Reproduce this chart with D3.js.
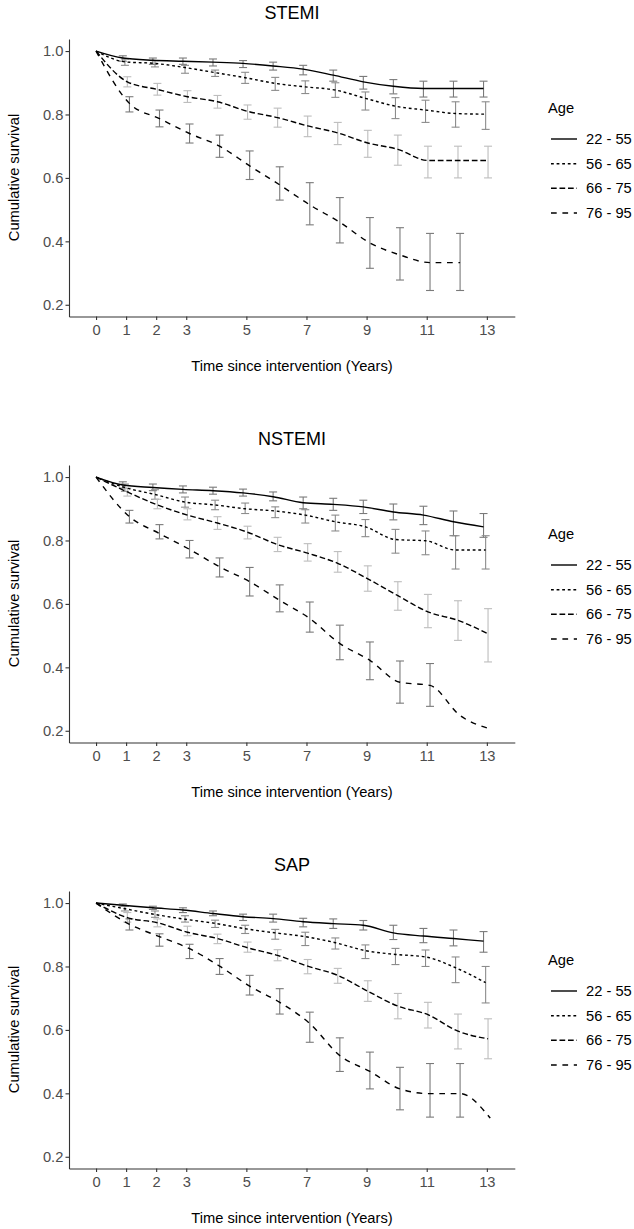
<!DOCTYPE html>
<html>
<head>
<meta charset="utf-8">
<script src="https://cdn.jsdelivr.net/npm/d3@7"></script>
<style>
  html, body { margin: 0; padding: 0; background: #fff; }
  svg { display: block; font-family: "Liberation Sans", Arial, sans-serif; }
</style>
</head>
<body>
<svg id="chart" width="634" height="1229"></svg>
<script>
// ---------- data ----------
const years = [0,1,2,3,4,5,6,7,8,9,10,11,12,13];
const ciYears = [1,2,3,4,5,6,7,8,9,10,11,12,13];
const ageGroups = ["22 - 55", "56 - 65", "66 - 75", "76 - 95"];
const xTicks = [0,1,2,3,5,7,9,11,13];
const yTicks = [0.2,0.4,0.6,0.8,1.0];
const panelTitles = ["STEMI", "NSTEMI", "SAP"];

// STEMI
const stemi_22_55 = [1,0.978,0.971,0.968,0.965,0.961,0.953,0.943,0.924,0.903,0.889,0.882,0.882,0.882];
const stemi_22_55_lo = [0.968,0.958,0.958,0.953,0.948,0.94,0.925,0.905,0.88,0.865,0.855,0.855,0.855];
const stemi_22_55_hi = [0.985,0.978,0.978,0.975,0.97,0.965,0.955,0.94,0.92,0.91,0.905,0.905,0.905];
const stemi_56_65 = [1,0.966,0.961,0.948,0.932,0.916,0.898,0.887,0.877,0.851,0.826,0.814,0.803,0.801];
const stemi_56_65_lo = [0.955,0.95,0.93,0.92,0.898,0.876,0.866,0.854,0.814,0.787,0.775,0.76,0.753];
const stemi_56_65_hi = [0.975,0.97,0.955,0.94,0.933,0.917,0.906,0.9,0.871,0.853,0.845,0.84,0.84];
const stemi_66_75 = [1,0.903,0.879,0.856,0.84,0.81,0.79,0.764,0.742,0.71,0.69,0.655,0.655,0.655];
const stemi_66_75_lo = [0.887,0.861,0.838,0.82,0.785,0.76,0.73,0.705,0.665,0.64,0.60,0.60,0.60];
const stemi_66_75_hi = [0.919,0.898,0.875,0.86,0.83,0.82,0.795,0.775,0.75,0.735,0.70,0.70,0.70];
const stemi_76_95 = [1,0.835,0.787,0.74,0.70,0.638,0.578,0.515,0.46,0.395,0.357,0.333,0.333];
const stemi_76_95_lo = [0.808,0.761,0.71,0.665,0.595,0.53,0.452,0.395,0.315,0.278,0.245,0.245];
const stemi_76_95_hi = [0.856,0.814,0.77,0.735,0.685,0.635,0.585,0.538,0.475,0.443,0.425,0.425];

// NSTEMI
const nstemi_22_55 = [1,0.975,0.967,0.961,0.957,0.95,0.938,0.919,0.914,0.906,0.89,0.88,0.859,0.843];
const nstemi_22_55_lo = [0.965,0.957,0.95,0.946,0.94,0.925,0.9,0.895,0.885,0.865,0.85,0.815,0.81];
const nstemi_22_55_hi = [0.985,0.978,0.972,0.968,0.962,0.953,0.937,0.933,0.927,0.915,0.908,0.893,0.885];
const nstemi_56_65 = [1,0.967,0.945,0.921,0.912,0.90,0.893,0.88,0.859,0.843,0.803,0.799,0.77,0.77];
const nstemi_56_65_lo = [0.955,0.93,0.905,0.897,0.885,0.872,0.855,0.83,0.812,0.76,0.755,0.71,0.71];
const nstemi_56_65_hi = [0.978,0.96,0.937,0.927,0.918,0.906,0.897,0.88,0.866,0.835,0.83,0.815,0.815];
const nstemi_66_75 = [1,0.953,0.912,0.88,0.855,0.826,0.787,0.76,0.728,0.679,0.626,0.575,0.548,0.506];
const nstemi_66_75_lo = [0.94,0.90,0.865,0.835,0.805,0.765,0.735,0.70,0.64,0.58,0.525,0.485,0.417];
const nstemi_66_75_hi = [0.965,0.93,0.90,0.875,0.845,0.81,0.79,0.765,0.72,0.67,0.63,0.61,0.585];
const nstemi_76_95 = [1,0.875,0.822,0.772,0.717,0.67,0.611,0.554,0.475,0.422,0.353,0.343,0.248,0.206];
const nstemi_76_95_lo = [0.855,0.805,0.745,0.685,0.625,0.575,0.511,0.424,0.361,0.287,0.277,null,null];
const nstemi_76_95_hi = [0.895,0.85,0.80,0.745,0.715,0.66,0.606,0.533,0.48,0.42,0.412,null,null];

// SAP
const sap_22_55 = [1,0.993,0.985,0.978,0.967,0.957,0.951,0.941,0.935,0.93,0.906,0.896,0.888,0.88];
const sap_22_55_lo = [0.99,0.98,0.97,0.96,0.945,0.94,0.925,0.92,0.915,0.885,0.875,0.865,0.845];
const sap_22_55_hi = [0.997,0.99,0.985,0.975,0.965,0.965,0.952,0.95,0.945,0.93,0.92,0.915,0.91];
const sap_56_65 = [1,0.982,0.964,0.949,0.936,0.919,0.906,0.894,0.875,0.85,0.838,0.83,0.796,0.749];
const sap_56_65_lo = [0.975,0.955,0.94,0.923,0.904,0.886,0.866,0.855,0.825,0.806,0.80,0.749,0.685];
const sap_56_65_hi = [0.99,0.975,0.96,0.946,0.93,0.917,0.908,0.89,0.868,0.857,0.852,0.83,0.80];
const sap_66_75 = [1,0.954,0.938,0.908,0.888,0.859,0.835,0.801,0.772,0.722,0.675,0.648,0.596,0.572];
const sap_66_75_lo = [0.94,0.925,0.897,0.872,0.845,0.818,0.777,0.747,0.69,0.635,0.606,0.54,0.509];
const sap_66_75_hi = [0.97,0.95,0.927,0.902,0.877,0.853,0.822,0.794,0.755,0.715,0.687,0.65,0.635];
const sap_76_95 = [1,0.933,0.894,0.856,0.801,0.738,0.687,0.62,0.519,0.469,0.414,0.399,0.399,0.322];
const sap_76_95_lo = [0.915,0.864,0.825,0.775,0.71,0.65,0.561,0.469,0.414,0.348,0.325,0.325,null];
const sap_76_95_hi = [0.95,0.903,0.87,0.825,0.772,0.73,0.656,0.575,0.53,0.482,0.494,0.494,null];

const panels = [
  { title: panelTitles[0], series: [
    [stemi_22_55, stemi_22_55_lo, stemi_22_55_hi],
    [stemi_56_65, stemi_56_65_lo, stemi_56_65_hi],
    [stemi_66_75, stemi_66_75_lo, stemi_66_75_hi],
    [stemi_76_95, stemi_76_95_lo, stemi_76_95_hi]] },
  { title: panelTitles[1], series: [
    [nstemi_22_55, nstemi_22_55_lo, nstemi_22_55_hi],
    [nstemi_56_65, nstemi_56_65_lo, nstemi_56_65_hi],
    [nstemi_66_75, nstemi_66_75_lo, nstemi_66_75_hi],
    [nstemi_76_95, nstemi_76_95_lo, nstemi_76_95_hi]] },
  { title: panelTitles[2], series: [
    [sap_22_55, sap_22_55_lo, sap_22_55_hi],
    [sap_56_65, sap_56_65_lo, sap_56_65_hi],
    [sap_66_75, sap_66_75_lo, sap_66_75_hi],
    [sap_76_95, sap_76_95_lo, sap_76_95_hi]] }
];

// ---------- styles ----------
const dashes = [null, "2.8,2.8", "5.7,2.8", "5.7,5.7"];
const barColors = ["#7a7a7a", "#8c8c8c", "#bdbdbd", "#7a7a7a"];
const dodge = [-0.11, -0.04, 0.04, 0.11];
const FONT = 14.7;

const svg = d3.select("#chart");
const panelStep = 426;

panels.forEach((p, pi) => {
  const o = pi * panelStep;
  const g = svg.append("g");
  const x = d3.scaleLinear().domain([-0.9, 13.93]).range([69, 514.8]);
  const y = d3.scaleLinear().domain([0.163, 1.038]).range([o + 316.5, o + 39]);

  // title
  g.append("text").attr("x", 292).attr("y", o + 13).attr("dy", "0.35em")
    .attr("text-anchor", "middle").attr("font-size", 18).attr("fill", "#000").text(p.title);

  // axes
  const xAxis = d3.axisBottom(x).tickValues(xTicks).tickFormat(d3.format("d"))
    .tickSize(3.5).tickSizeOuter(0).tickPadding(4.5);
  const yAxis = d3.axisLeft(y).tickValues(yTicks).tickFormat(d3.format(".1f"))
    .tickSize(3.5).tickSizeOuter(0).tickPadding(2.2);
  const gx = g.append("g").attr("transform", `translate(0,${o + 316.5})`).call(xAxis);
  const gy = g.append("g").attr("transform", `translate(69,0)`).call(yAxis);
  [gx, gy].forEach(a => {
    a.select(".domain").attr("stroke", "#333").attr("stroke-width", 1.1);
    a.selectAll(".tick line").attr("stroke", "#333").attr("stroke-width", 1.1);
    a.selectAll(".tick text").attr("fill", "#4d4d4d").attr("font-size", FONT)
      .attr("font-family", "Liberation Sans, Arial, sans-serif");
  });

  // axis titles
  g.append("text").attr("x", 292).attr("y", o + 366).attr("dy", "0.35em")
    .attr("text-anchor", "middle").attr("font-size", FONT).attr("fill", "#000")
    .text("Time since intervention (Years)");
  g.append("text").attr("transform", `translate(13.5,${o + 177.5}) rotate(-90)`)
    .attr("dy", "0.35em").attr("text-anchor", "middle").attr("font-size", FONT)
    .attr("fill", "#000").text("Cumulative survival");

  // error bars
  p.series.forEach((s, si) => {
    const [vals, lo, hi] = s;
    const bars = ciYears.map((yr, i) => ({ yr, lo: lo[i], hi: hi[i] }))
      .filter(d => d.lo != null && d.hi != null);
    const eb = g.append("g").attr("stroke", barColors[si]).attr("stroke-width", 1.1).attr("fill", "none");
    bars.forEach(d => {
      const cx = x(d.yr + dodge[si]);
      eb.append("line").attr("x1", cx).attr("x2", cx).attr("y1", y(d.lo)).attr("y2", y(d.hi));
      eb.append("line").attr("x1", cx - 4).attr("x2", cx + 4).attr("y1", y(d.lo)).attr("y2", y(d.lo));
      eb.append("line").attr("x1", cx - 4).attr("x2", cx + 4).attr("y1", y(d.hi)).attr("y2", y(d.hi));
    });
  });

  // lines
  p.series.forEach((s, si) => {
    const vals = s[0];
    const pts = vals.map((v, i) => ({ yr: years[i], v }));
    const line = d3.line().x(d => x(d.yr + (d.yr === 0 ? 0 : dodge[si]))).y(d => y(d.v)).curve(d3.curveMonotoneX);
    g.append("path").datum(pts).attr("d", line).attr("fill", "none")
      .attr("stroke", "#000").attr("stroke-width", 1.4)
      .attr("stroke-dasharray", dashes[si]);
  });

  // legend
  const lg = g.append("g");
  lg.append("text").attr("x", 548).attr("y", o + 108).attr("dy", "0.35em")
    .attr("font-size", FONT).attr("fill", "#000").text("Age");
  const rowY = [139, 163.7, 188.3, 213];
  ageGroups.forEach((a, i) => {
    lg.append("line").attr("x1", 551).attr("x2", 577).attr("y1", o + rowY[i]).attr("y2", o + rowY[i])
      .attr("stroke", "#000").attr("stroke-width", 1.4).attr("stroke-dasharray", dashes[i]);
    lg.append("text").attr("x", 586).attr("y", o + rowY[i]).attr("dy", "0.35em")
      .attr("font-size", FONT).attr("fill", "#000").text(a);
  });
});
</script>
</body>
</html>
